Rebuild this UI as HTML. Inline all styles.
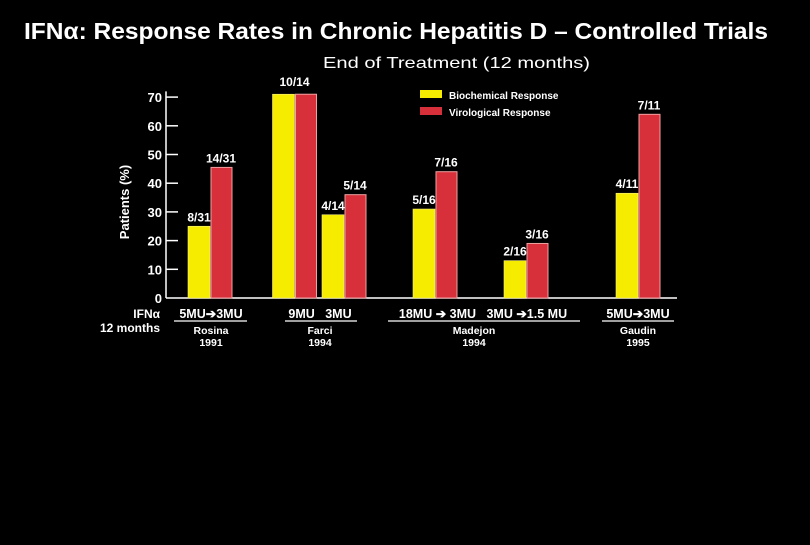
<!DOCTYPE html>
<html><head><meta charset="utf-8"><style>
body{margin:0;background:#000;width:810px;height:540px;overflow:hidden}
svg text{font-family:"Liberation Sans",Arial,sans-serif;fill:#fff}
</style></head><body>
<svg width="810" height="540">
<text x="24" y="39" font-size="23" font-weight="bold" textLength="744" lengthAdjust="spacingAndGlyphs">IFNα: Response Rates in Chronic Hepatitis D – Controlled Trials</text>
<text x="323" y="68" font-size="16" textLength="267" lengthAdjust="spacingAndGlyphs">End of Treatment (12 months)</text>
<g id="axes"></g><g id="bars"></g><g id="labels"></g>
<g>
<rect x="420" y="90" width="22" height="8" fill="#f5ec00"/>
<text x="449" y="99" font-size="10" font-weight="bold">Biochemical Response</text>
<rect x="420" y="107" width="22" height="8" fill="#d8303a"/>
<text x="449" y="116" font-size="10" font-weight="bold">Virological Response</text>
</g>
<g font-weight="bold">
<text x="160" y="318" font-size="12" text-anchor="end">IFNα</text>
<text x="160" y="332" font-size="12" text-anchor="end">12 months</text>
<text x="211" y="318" font-size="12.5" text-anchor="middle">5MU➔3MU</text>
<line x1="174" y1="321" x2="247" y2="321" stroke="#fff" stroke-width="1.2"/>
<text x="211" y="334" font-size="10.5" text-anchor="middle">Rosina</text>
<text x="211" y="346" font-size="10.5" text-anchor="middle">1991</text>
<text x="320" y="318" font-size="12.5" text-anchor="middle">9MU&#160;&#160;&#160;3MU</text>
<line x1="285" y1="321" x2="357" y2="321" stroke="#fff" stroke-width="1.2"/>
<text x="320" y="334" font-size="10.5" text-anchor="middle">Farci</text>
<text x="320" y="346" font-size="10.5" text-anchor="middle">1994</text>
<text x="483" y="318" font-size="12.5" text-anchor="middle">18MU ➔ 3MU&#160;&#160;&#160;3MU ➔1.5 MU</text>
<line x1="388" y1="321" x2="580" y2="321" stroke="#fff" stroke-width="1.2"/>
<text x="474" y="334" font-size="10.5" text-anchor="middle">Madejon</text>
<text x="474" y="346" font-size="10.5" text-anchor="middle">1994</text>
<text x="638" y="318" font-size="12.5" text-anchor="middle">5MU➔3MU</text>
<line x1="602" y1="321" x2="674" y2="321" stroke="#fff" stroke-width="1.2"/>
<text x="638" y="334" font-size="10.5" text-anchor="middle">Gaudin</text>
<text x="638" y="346" font-size="10.5" text-anchor="middle">1995</text>
</g>
</svg>
<script>
const categories = ["Rosina 5-3", "Farci 9", "Farci 3", "Madejon 18-3", "Madejon 3-1.5", "Gaudin 5-3"];
const biochemical = [25, 71, 29, 31, 13, 36.5];
const virological = [45.5, 71, 36, 44, 19, 64];
const bioLabels = ["8/31", "10/14", "4/14", "5/16", "2/16", "4/11"];
const viroLabels = ["14/31", "10/14", "5/14", "7/16", "3/16", "7/11"];
const yTicks = [0, 10, 20, 30, 40, 50, 60, 70];

const NS = "http://www.w3.org/2000/svg";
const y0 = 298, pxPerUnit = 2.87;
function y(v){ return y0 - v * pxPerUnit; }
const centers = [210, 294.5, 344, 435, 526, 638];
function xc(i){ return centers[i]; }
const bw = 22;
function mk(tag, attrs, parent){
  const e = document.createElementNS(NS, tag);
  for (const k in attrs) e.setAttribute(k, attrs[k]);
  parent.appendChild(e); return e;
}
const axes = document.getElementById("axes");
const bars = document.getElementById("bars");
const labels = document.getElementById("labels");
const xAxis = mk("line", {x1:166, y1:y0, x2:677, y2:y0, stroke:"#fff", "stroke-width":1.5}, axes);


const yAxis = mk("line", {x1:166, y1:y0, x2:166, y2:y(72), stroke:"#fff", "stroke-width":1.5}, axes);


yTicks.forEach(t => {
  if (t > 0) {
    const tl = mk("line", {x1:166, y1:y(t), x2:178, y2:y(t), stroke:"#fff", "stroke-width":1.5}, axes);
    
    
  }
  const tx = mk("text", {x:162, y:y(t)+5, "font-size":13, "font-weight":"bold", "text-anchor":"end"}, axes);
  tx.textContent = t;
  
  
});
const yt = mk("text", {x:0, y:0, "font-size":13, "font-weight":"bold", "text-anchor":"middle", transform:"translate(129,202) rotate(-90)"}, axes);
yt.textContent = "Patients (%)";



categories.forEach((c, i) => {
  const b = mk("rect", {x:xc(i)-bw, y:y(biochemical[i]), width:bw, height:y0-y(biochemical[i]), fill:"#f5ec00", stroke:"#f8f080", "stroke-width":0.6}, bars);
  
  
  const r = mk("rect", {x:xc(i)+1, y:y(virological[i]), width:bw-1, height:y0-y(virological[i]), fill:"#d8303a", stroke:"#f0a0a0", "stroke-width":1}, bars);
  
  
  if (biochemical[i] !== virological[i]) {
    const bl = mk("text", {x:xc(i)-bw/2, y:y(biochemical[i])-5, "font-size":12, "font-weight":"bold", "text-anchor":"middle"}, labels);
    bl.textContent = bioLabels[i];
    
    
    const vl = mk("text", {x:xc(i)+bw/2, y:y(virological[i])-5, "font-size":12, "font-weight":"bold", "text-anchor":"middle"}, labels);
    vl.textContent = viroLabels[i];
    
    
  } else {
    const l = mk("text", {x:xc(i), y:y(virological[i])-8, "font-size":12, "font-weight":"bold", "text-anchor":"middle"}, labels);
    l.textContent = viroLabels[i];
    
    
  }
});
</script>
</body></html>
